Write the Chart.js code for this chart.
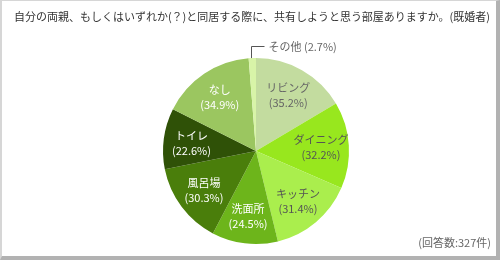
<!DOCTYPE html>
<html>
<head>
<meta charset="utf-8">
<script src="https://cdn.jsdelivr.net/npm/chart.js@4.4.0/dist/chart.umd.min.js"></script>
<style>
  html, body { margin: 0; padding: 0; background: #fff; }
  #wrap {
    position: relative;
    width: 500px; height: 260px;
    box-sizing: border-box;
    border-left: 2px solid #d6d6d6;
    border-top: 1px solid #d6d6d6;
    border-right: 4px solid #b2b2b2;
    border-bottom: 4px solid #b2b2b2;
  }
  #chart { position: absolute; left: -2px; top: -1px; }
</style>
</head>
<body>
<div id="wrap"><canvas id="chart" width="500" height="260"></canvas></div>
<script>
const titleText = '自分の両親、もしくはいずれか(？)と同居する際に、共有しようと思う部屋ありますか。(既婚者)';
const noteText = '(回答数:327件)';

const categories = ['リビング', 'ダイニング', 'キッチン', '洗面所', '風呂場', 'トイレ', 'なし', 'その他'];
const values = [35.2, 32.2, 31.4, 24.5, 30.3, 22.6, 34.9, 2.7];
const colors = ['#c3dc9f', '#98e71e', '#aaee4d', '#6db51b', '#4a7e0b', '#2f5107', '#9bc660', '#d8f4a8'];
const textColors = ['#666', '#555', '#555', '#fff', '#fff', '#fff', '#fff', '#666'];

const FONT = "'Noto Sans CJK JP', 'Noto Sans', sans-serif";

// title, footnote and slice labels
const labelPlugin = {
    id: 'labels',
    afterDatasetsDraw(chart) {
        const ctx = chart.ctx;
        const arcs = chart.getDatasetMeta(0).data;
        ctx.save();

        ctx.font = '11px ' + FONT;
        ctx.fillStyle = '#333';
        ctx.textAlign = 'left';
        ctx.textBaseline = 'middle';
        ctx.fillText(titleText, 14, 17, 476);

        ctx.fillStyle = '#666';
        ctx.textAlign = 'right';
        ctx.fillText(noteText, 491, 243);

        ctx.textAlign = 'center';
        arcs.forEach((arc, i) => {
            const mid = (arc.startAngle + arc.endAngle) / 2;
            const label = categories[i];
            const pct = '(' + values[i].toFixed(1) + '%)';
            if (i === categories.length - 1) {
                // small slice: leader line to outside label
                const px = Math.round(arc.x + Math.cos(mid) * arc.outerRadius) - 0.5;
                const py = arc.y + Math.sin(mid) * arc.outerRadius;
                ctx.strokeStyle = '#555';
                ctx.lineWidth = 1;
                ctx.beginPath();
                ctx.moveTo(px, py);
                ctx.lineTo(px, 46.5);
                ctx.lineTo(px + 13, 46.5);
                ctx.stroke();
                ctx.fillStyle = textColors[i];
                ctx.textAlign = 'left';
                ctx.fillText(label + ' ' + pct, px + 17, 47);
                ctx.textAlign = 'center';
                return;
            }
            const r = arc.outerRadius * 0.7;
            const x = arc.x + Math.cos(mid) * r;
            const y = arc.y + Math.sin(mid) * r;
            ctx.fillStyle = textColors[i];
            ctx.fillText(label, x, y - 7);
            ctx.fillText(pct, x, y + 8);
        });
        ctx.restore();
    }
};

new Chart(document.getElementById('chart'), {
    type: 'pie',
    data: {
        labels: categories,
        datasets: [{
            data: values,
            backgroundColor: colors,
            borderWidth: 0
        }]
    },
    options: {
        responsive: false,
        animation: false,
        layout: {
            padding: { top: 58, bottom: 16, left: 163, right: 151 }
        },
        plugins: {
            legend: { display: false },
            tooltip: { enabled: false }
        }
    },
    plugins: [labelPlugin]
});
</script>
</body>
</html>
